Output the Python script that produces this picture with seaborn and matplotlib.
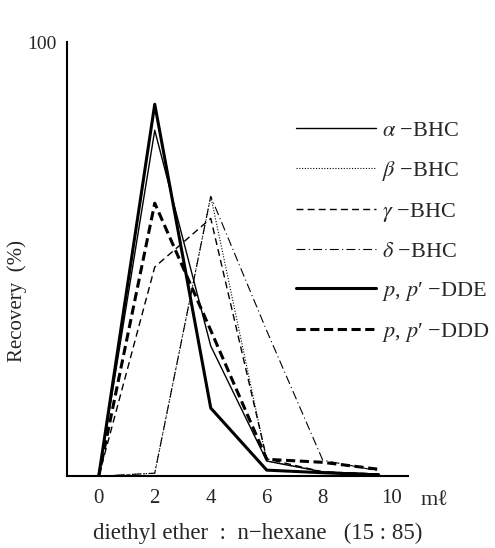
import pandas as pd
import seaborn as sns
import matplotlib.pyplot as plt
from matplotlib.transforms import ScaledTranslation

# eluate volume (ml) and recovery (%)
volume = [0, 2, 4, 6, 8, 10]
alpha_bhc = [0, 79.7, 30.0, 3.5, 1.0, 0.5]
beta_bhc = [0, 0.7, 64.5, 3.5, 1.0, 0.5]
gamma_bhc = [0, 48.2, 59.4, 4.0, 1.0, 0.5]
delta_bhc = [0, 0.7, 64.5, 33.5, 3.7, 1.2]
pp_dde = [0, 85.7, 15.7, 1.4, 0.8, 0.3]
pp_ddd = [0, 62.9, 33.6, 3.9, 3.2, 1.6]

labels = [r"$\alpha$ −BHC", r"$\beta$ −BHC", r"$\gamma$ −BHC", r"$\delta$ −BHC",
          r"$p$, $p$′ −DDE", r"$p$, $p$′ −DDD"]
series = [alpha_bhc, beta_bhc, gamma_bhc, delta_bhc, pp_dde, pp_ddd]

# line styles to look like the scanned original
styles = [
    dict(linestyle="-", linewidth=1.0),
    dict(linestyle=(0, (1, 1.5)), linewidth=0.8),
    dict(linestyle=(0, (5, 3)), linewidth=1.0),
    dict(linestyle=(0, (8, 3, 1, 3)), linewidth=0.8),
    dict(linestyle="-", linewidth=2.2),
    dict(linestyle=(0, (3, 1.5)), linewidth=2.2),
]

sns.set_style("white")
plt.rcParams["font.family"] = ["Liberation Serif", "DejaVu Serif"]
plt.rcParams["mathtext.fontset"] = "stix"

fig = plt.figure(figsize=(4.95, 5.48), dpi=100)
ax = fig.add_axes([0.135, 0.131, 0.689, 0.792])

for vals, lab, st in zip(series, labels, styles):
    df = pd.DataFrame({"ml": volume, "rec": vals})
    sns.lineplot(data=df, x="ml", y="rec", ax=ax, color="black", label=lab, **st)

ax.set_xlim(-1.14, 11.04)
ax.set_ylim(0, 100)
sns.despine(ax=ax)
for s in ["left", "bottom"]:
    ax.spines[s].set_color("black")
    ax.spines[s].set_linewidth(1.5)

ax.set_xticks(volume)
ax.set_xticklabels([str(v) for v in volume], fontsize=15)
ax.tick_params(axis="x", length=0, pad=9)
# the "10" sits a little to the right in the original
lab10 = ax.get_xticklabels()[-1]
lab10.set_transform(lab10.get_transform() + ScaledTranslation(9 / 72, 0, fig.dpi_scale_trans))

ax.set_yticks([100])
ax.set_yticklabels(["100"], fontsize=14)
ax.set_yticks([21.4, 42.4, 63.6, 84.8], minor=True)
ax.tick_params(axis="y", which="major", direction="out", length=4, width=1.2)
ax.tick_params(axis="y", which="minor", direction="in", length=7, width=1.5)

ax.set_xlabel("")
ax.set_ylabel("")
ax.text(12.0, -0.035, "mℓ", transform=ax.get_xaxis_transform(), fontsize=16,
        ha="center", va="top")
fig.text(0.52, 0.016, "diethyl ether  :  n−hexane   (15 : 85)", fontsize=16.5,
         ha="center", va="baseline")
fig.text(0.035, 0.45, "Recovery  (%)", fontsize=15, rotation=90, ha="center", va="center")

ax.legend(frameon=False, loc="upper left", bbox_to_anchor=(0.645, 0.84),
          handlelength=3.6, handletextpad=0.3, labelspacing=0.8, fontsize=16,
          borderaxespad=0)

fig.savefig("out.png", dpi=100, facecolor="white")
